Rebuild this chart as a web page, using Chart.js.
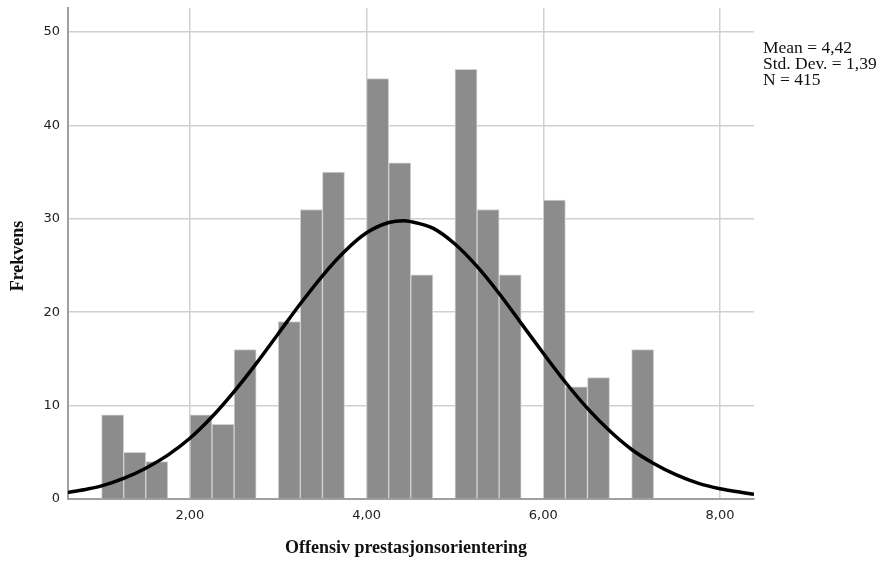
<!DOCTYPE html>
<html>
<head>
<meta charset="utf-8">
<script src="https://cdn.jsdelivr.net/npm/chart.js@4/dist/chart.umd.min.js"></script>
<style>
    html, body { margin: 0; padding: 0; background: #fff; }
    #wrap { width: 893px; height: 563px; }
</style>
</head>
<body>
<div id="wrap"><canvas id="histChart" width="893" height="563"></canvas></div>
<script>
// histogram bins (lower edge, width 0.25) and counts
const binStarts = [1.00, 1.25, 1.50, 1.75, 2.00, 2.25, 2.50, 2.75, 3.00, 3.25, 3.50, 3.75,
    4.00, 4.25, 4.50, 4.75, 5.00, 5.25, 5.50, 5.75, 6.00, 6.25, 6.50, 6.75, 7.00];
const counts = [9, 5, 4, 0, 9, 8, 16, 0, 19, 31, 35, 0,
    45, 36, 24, 0, 46, 31, 24, 0, 32, 12, 13, 0, 16];
const binWidth = 0.25;

// normal curve
const curveX = [0.62, 0.8, 1.0, 1.25, 1.5, 1.75, 2.0, 2.25, 2.5, 2.75, 3.0, 3.25, 3.5, 3.75,
    4.0, 4.25, 4.42, 4.5, 4.75, 5.0, 5.25, 5.5, 5.75, 6.0, 6.25, 6.5, 6.75, 7.0, 7.25,
    7.5, 7.75, 8.0, 8.25, 8.385];
const curveY = [0.7, 1.0, 1.4, 2.2, 3.3, 4.7, 6.5, 8.8, 11.5, 14.5, 17.7, 20.9, 23.9, 26.5,
    28.5, 29.6, 29.8, 29.7, 29.0, 27.3, 24.9, 22.0, 18.8, 15.6, 12.5, 9.7, 7.3, 5.3, 3.8,
    2.6, 1.7, 1.1, 0.7, 0.5];

const xTicks = [2, 4, 6, 8];
const yTicks = [0, 10, 20, 30, 40, 50];
const statLines = ['Mean = 4,42', 'Std. Dev. = 1,39', 'N = 415'];
const xTitle = 'Offensiv prestasjonsorientering';
const yTitle = 'Frekvens';

const barData = binStarts.map((s, i) => ({ x: s + binWidth / 2, y: counts[i] }));
const curveData = curveX.map((x, i) => ({ x: x, y: curveY[i] }));

// axis titles + stats box text
const textPlugin = {
    id: 'textPlugin',
    afterDraw(chart) {
        const ctx = chart.ctx;
        ctx.save();
        ctx.fillStyle = '#111';
        ctx.font = 'bold 18px "Liberation Serif", "Times New Roman", serif';
        ctx.textAlign = 'center';
        ctx.textBaseline = 'middle';
        ctx.fillText(xTitle, 406, 548);
        ctx.translate(18, 256);
        ctx.rotate(-Math.PI / 2);
        ctx.fillText(yTitle, 0, 0);
        ctx.restore();

        ctx.save();
        ctx.fillStyle = '#111';
        ctx.font = '17.5px "Liberation Serif", "Times New Roman", serif';
        ctx.textAlign = 'left';
        ctx.textBaseline = 'alphabetic';
        statLines.forEach(function (t, i) {
            ctx.fillText(t, 763, 53 + i * 16);
        });
        ctx.restore();
    }
};

const tickFont = { family: '"DejaVu Sans", Verdana, sans-serif', size: 13 };

new Chart(document.getElementById('histChart'), {
    data: {
        datasets: [
            {
                type: 'line',
                data: curveData,
                borderColor: '#000',
                borderWidth: 3.5,
                pointRadius: 0,
                cubicInterpolationMode: 'monotone',
                fill: false,
                order: 0
            },
            {
                type: 'bar',
                data: barData,
                backgroundColor: '#8c8c8c',
                borderColor: '#d2d2d2',
                borderWidth: 1,
                borderSkipped: 'bottom',
                barPercentage: 1.0,
                categoryPercentage: 1.0,
                order: 1
            }
        ]
    },
    options: {
        responsive: false,
        animation: false,
        layout: { padding: { top: 8, right: 139, left: 0, bottom: 0 } },
        plugins: {
            legend: { display: false },
            tooltip: { enabled: false }
        },
        scales: {
            x: {
                type: 'linear',
                min: 0.62,
                max: 8.385,
                offset: false,
                afterBuildTicks: function (s) { s.ticks = xTicks.map(v => ({ value: v })); },
                afterFit: function (s) { s.height = 64; s.paddingLeft = 0; s.paddingRight = 0; },
                ticks: {
                    color: '#222',
                    font: tickFont,
                    padding: 9,
                    maxRotation: 0,
                    callback: v => v.toFixed(2).replace('.', ',')
                },
                grid: { color: '#d0d0d0', lineWidth: 1.5, drawTicks: false, offset: false },
                border: { color: '#a0a0a0', width: 2 }
            },
            y: {
                type: 'linear',
                min: 0,
                max: 52.57,
                afterBuildTicks: function (s) { s.ticks = yTicks.map(v => ({ value: v })); },
                afterFit: function (s) { s.width = 68; s.paddingTop = 0; s.paddingBottom = 0; },
                ticks: {
                    color: '#222',
                    font: tickFont,
                    padding: 8
                },
                grid: { color: '#d0d0d0', lineWidth: 1.5, drawTicks: false },
                border: { color: '#a0a0a0', width: 2 }
            }
        }
    },
    plugins: [textPlugin]
});
</script>
</body>
</html>
